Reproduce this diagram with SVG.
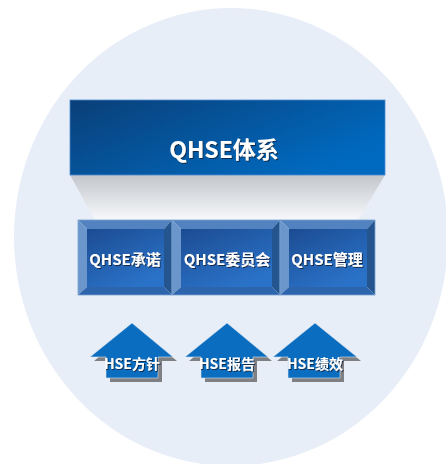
<svg xmlns="http://www.w3.org/2000/svg" width="446" height="464" viewBox="0 0 446 464">
<defs>
<linearGradient id="topG" x1="0" y1="0" x2="1" y2="0.6">
<stop offset="0" stop-color="#0a3f78"/>
<stop offset="1" stop-color="#006ac0"/>
</linearGradient>
<linearGradient id="trapG" x1="0" y1="0" x2="0" y2="1">
<stop offset="0" stop-color="#c3c6cb"/>
<stop offset="1" stop-color="#f6f8fb"/>
</linearGradient>
<linearGradient id="faceG" x1="0" y1="0" x2="0.6" y2="1">
<stop offset="0" stop-color="#1c4c92"/>
<stop offset="1" stop-color="#2a72c8"/>
</linearGradient>
<filter id="ts" x="-10%" y="-30%" width="130%" height="170%">
<feDropShadow dx="1" dy="1" stdDeviation="0.6" flood-color="#10213a" flood-opacity="0.85"/>
</filter>
<g id="bevel">
<polygon points="0,0 1,0 0.91,0.12 0.09,0.12" fill="#4f7fbc"/>
</g>
</defs>
<style>
.lbl{font-family:"Noto Sans CJK SC","Liberation Sans",sans-serif;font-weight:bold;fill:#ffffff;text-anchor:middle;filter:url(#ts)}
.bt{fill:#5283c0}
.bl{fill:#6a96cb}
.br{fill:#24558f}
.bb{fill:#2c64ad}
.face{fill:url(#faceG)}
.frame{fill:none;stroke:#7aa0cf;stroke-width:0.8}
.arr{fill:#0b6dbf;stroke:#d8e4f2;stroke-width:0.6}
.arrs{fill:#7e8084}
</style>
<ellipse cx="231" cy="237" rx="217" ry="229" fill="#e8eef7"/>

<g id="shadow-trapezoid">
<polygon points="70,175 385,175 358,220 95,220" fill="url(#trapG)"/>
</g>

<g id="qhse-system">
<rect x="70" y="100" width="315" height="75" fill="url(#topG)" stroke="#4d8ad0" stroke-width="0.8"/>
<text class="lbl" x="224" y="158" font-size="23">QHSE体系</text>
</g>

<g id="qhse-commitment">
<polygon class="bt" points="78,220 172,220 164,229 87,229"/>
<polygon class="bl" points="78,220 87,229 87,287 78,295"/>
<polygon class="br" points="172,220 172,295 164,287 164,229"/>
<polygon class="bb" points="78,295 87,287 164,287 172,295"/>
<rect class="face" x="87" y="229" width="77" height="58"/>
<rect class="frame" x="78" y="220" width="94" height="75"/>
<text class="lbl" x="125" y="265" font-size="15">QHSE承诺</text>
</g>

<g id="qhse-committee">
<polygon class="bt" points="172,220 280,220 272,229 181,229"/>
<polygon class="bl" points="172,220 181,229 181,287 172,295"/>
<polygon class="br" points="280,220 280,295 272,287 272,229"/>
<polygon class="bb" points="172,295 181,287 272,287 280,295"/>
<rect class="face" x="181" y="229" width="91" height="58"/>
<rect class="frame" x="172" y="220" width="108" height="75"/>
<text class="lbl" x="227" y="265" font-size="15">QHSE委员会</text>
</g>

<g id="qhse-management">
<polygon class="bt" points="280,220 375,220 367,229 289,229"/>
<polygon class="bl" points="280,220 289,229 289,287 280,295"/>
<polygon class="br" points="375,220 375,295 367,287 367,229"/>
<polygon class="bb" points="280,295 289,287 367,287 375,295"/>
<rect class="face" x="289" y="229" width="78" height="58"/>
<rect class="frame" x="280" y="220" width="95" height="75"/>
<text class="lbl" x="327" y="265" font-size="15">QHSE管理</text>
</g>

<g id="hse-policy">
<polygon class="arrs" points="136,327 177,361 162,361 162,382 110,382 110,361 94,361"/>
<polygon class="arr" points="132,323 173,357 158,357 158,378 106,378 106,357 90,357"/>
<text class="lbl" x="132" y="369" font-size="14">HSE方针</text>
</g>

<g id="hse-report">
<polygon class="arrs" points="231,327 272,361 257,361 257,382 205,382 205,361 189,361"/>
<polygon class="arr" points="227,323 268,357 253,357 253,378 201,378 201,357 185,357"/>
<text class="lbl" x="227" y="369" font-size="14">HSE报告</text>
</g>

<g id="hse-performance">
<polygon class="arrs" points="319,327 361,361 344,361 344,382 292,382 292,361 277,361"/>
<polygon class="arr" points="315,323 357,357 340,357 340,378 288,378 288,357 273,357"/>
<text class="lbl" x="315" y="369" font-size="14">HSE绩效</text>
</g>

<g id="connectors"></g>
</svg>
